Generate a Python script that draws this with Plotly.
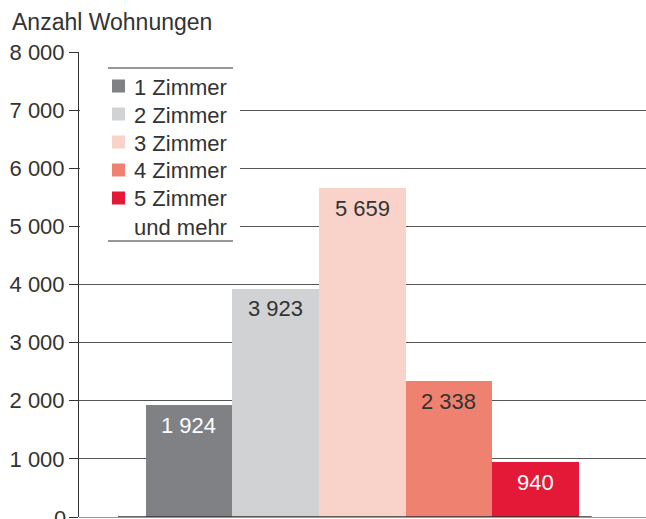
import plotly.graph_objects as go

categories = ["1 Zimmer", "2 Zimmer", "3 Zimmer", "4 Zimmer", "5 Zimmer<br>und mehr"]
values = [1924, 3923, 5659, 2338, 940]
colors = ["#808185", "#d1d2d4", "#f9d3c9", "#ee8170", "#e31937"]
label_colors = ["#ffffff", "#333333", "#333333", "#333333", "#ffffff"]
y_title = "Anzahl Wohnungen"
y_ticks = [0, 1000, 2000, 3000, 4000, 5000, 6000, 7000, 8000]

FONT = "Liberation Sans, Arial, sans-serif"
TXT = "#333333"

W_IMG, H_IMG = 646, 519
L, T, R, B = 79, 52, 0, 2
PW, PH = W_IMG - L - R, H_IMG - T - B


def px_x(p):
    return (p - L) / PW


def px_y(p):
    return 1 - (p - T) / PH


fig = go.Figure()
fig.add_trace(go.Bar(
    x=list(range(len(values))), y=values,
    marker=dict(color=colors, line=dict(width=0)),
    width=1, showlegend=False, hoverinfo="skip",
))

annotations = []
# value labels inside bars
for i, (v, c) in enumerate(zip(values, label_colors)):
    annotations.append(dict(
        x=i, y=v, xref="x", yref="y", text=f"{v:,}".replace(",", " "),
        showarrow=False, yanchor="middle", yshift=-20,
        font=dict(family=FONT, size=22, color=c),
    ))

# bottom (clipped) "0" tick label
annotations.append(dict(
    x=0, y=y_ticks[0], xref="paper", yref="y", text=str(y_ticks[0]),
    showarrow=False, xanchor="right", yanchor="middle", xshift=-11, yshift=-1,
    font=dict(family=FONT, size=22, color=TXT),
))

shapes = []
# white legend background
shapes.append(dict(type="rect", xref="paper", yref="paper",
                   x0=px_x(80), x1=px_x(240), y0=px_y(247), y1=px_y(58),
                   fillcolor="white", line=dict(width=0), layer="above"))
# legend rules
for yy in (68, 241):
    shapes.append(dict(type="line", xref="paper", yref="paper",
                       x0=px_x(108), x1=px_x(233), y0=px_y(yy), y1=px_y(yy),
                       line=dict(color=TXT, width=1), layer="above"))
# legend entries
for i, (cat, col) in enumerate(zip(categories, colors)):
    cy = 86 + 28 * i
    shapes.append(dict(type="rect", xref="paper", yref="paper",
                       x0=px_x(112), x1=px_x(125), y0=px_y(cy + 6.5), y1=px_y(cy - 6.5),
                       fillcolor=col, line=dict(width=0), layer="above"))
    nlines = cat.count("<br>") + 1
    ty = cy + 1 + (nlines - 1) * 13.5
    annotations.append(dict(
        x=px_x(132), y=px_y(ty), xref="paper", yref="paper", text=cat,
        showarrow=False, xanchor="left", yanchor="middle", align="left",
        font=dict(family=FONT, size=22, color=TXT),
    ))

# baseline
shapes.append(dict(type="line", xref="x", yref="y", x0=-0.82, x1=4.65, y0=0, y1=0,
                   line=dict(color="#333333", width=1.5), layer="above"))

fig.update_layout(
    width=W_IMG, height=H_IMG,
    margin=dict(l=L, r=R, t=T, b=B, pad=0),
    paper_bgcolor="white", plot_bgcolor="white",
    separators=", ",
    bargap=0,
    title=dict(text=y_title, x=12 / W_IMG, y=1 - 22 / H_IMG, xanchor="left", yanchor="middle",
               xref="container", yref="container",
               font=dict(family=FONT, size=23, color=TXT)),
    xaxis=dict(range=[-1.27, 5.277], showticklabels=False, ticks="", showgrid=False,
               zeroline=False, showline=False, fixedrange=True),
    yaxis=dict(range=[0, 8000], tickvals=y_ticks, tickformat=",d",
               showgrid=True, gridcolor="#555555", gridwidth=1,
               zeroline=True, zerolinecolor="#999999", zerolinewidth=1,
               showline=True, linecolor=TXT, linewidth=1,
               ticks="outside", ticklen=9, tickcolor=TXT, tickwidth=1,
               tickfont=dict(family=FONT, size=22, color=TXT)),
    annotations=annotations, shapes=shapes,
    font=dict(family=FONT, color=TXT),
)

fig.write_html(
    "out.html",
    config={"displayModeBar": False},
    post_script="document.body.style.margin='0';document.body.style.overflow='hidden';"
                "document.documentElement.style.overflow='hidden';",
)
